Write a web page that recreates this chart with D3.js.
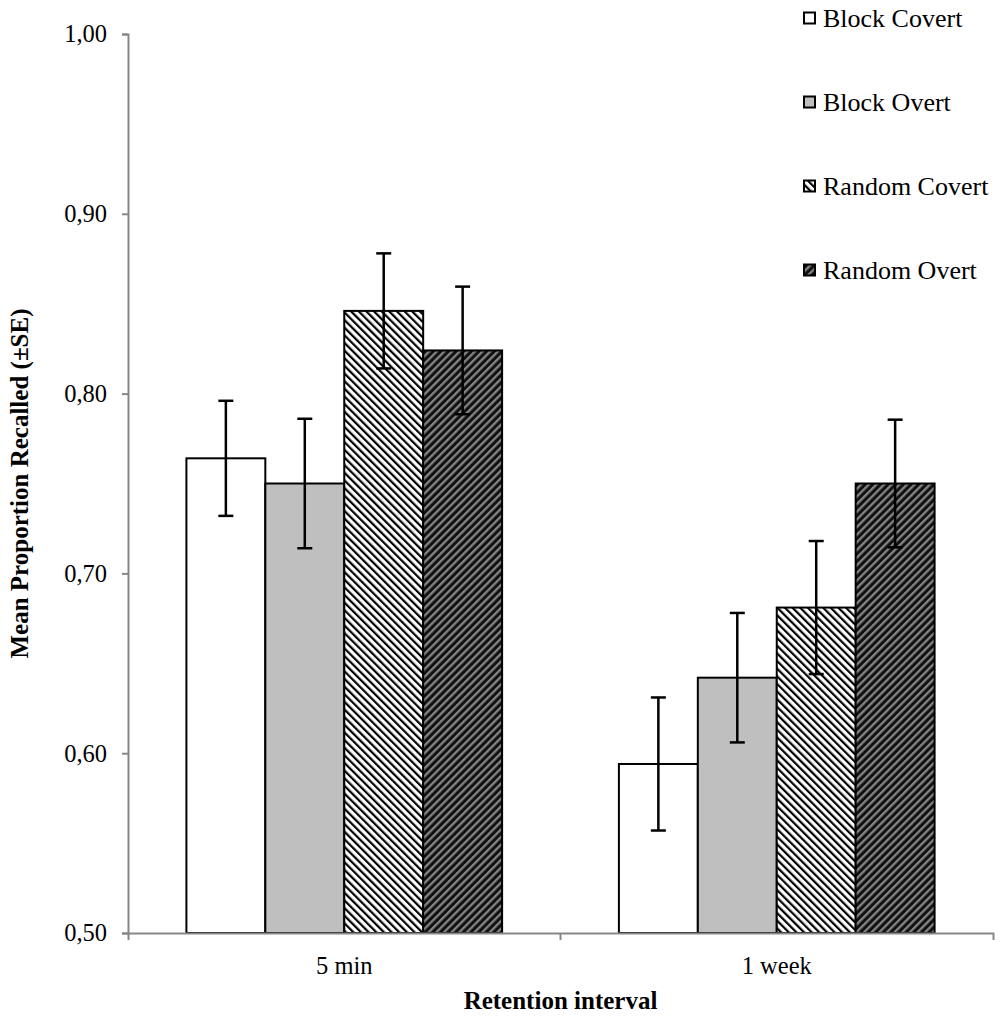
<!DOCTYPE html>
<html>
<head>
<meta charset="utf-8">
<script src="https://cdn.jsdelivr.net/npm/d3@7"></script>
<style>
  body { margin: 0; background: #fff; }
  svg { font-family: "Liberation Serif", "Times New Roman", serif; }
</style>
</head>
<body>
<section></section>
<script>
"use strict";

//Chart data
const categories = ["5 min", "1 week"];
const series = ["Block Covert", "Block Overt", "Random Covert", "Random Overt"];
const blockCovert = [0.764, 0.594];
const blockOvert = [0.750, 0.642];
const randomCovert = [0.846, 0.681];
const randomOvert = [0.824, 0.750];
const blockCovertSE = [0.032, 0.037];
const blockOvertSE = [0.036, 0.036];
const randomCovertSE = [0.032, 0.037];
const randomOvertSE = [0.0355, 0.0355];
const yTicks = [0.5, 0.6, 0.7, 0.8, 0.9, 1.0];

const w = 1000;
const h = 1020;
const plotLeft = 128;
const plotRight = 993;
const plotTop = 34;
const plotBottom = 933;

const means = [blockCovert, blockOvert, randomCovert, randomOvert];
const errors = [blockCovertSE, blockOvertSE, randomCovertSE, randomOvertSE];

const data = [];
categories.forEach((cat, ci) => {
  series.forEach((s, si) => {
    data.push({ cat, s, value: means[si][ci], se: errors[si][ci] });
  });
});

const svg = d3.select("section").append("svg").attr("width", w).attr("height", h);

//Fill patterns for the random bars
const defs = svg.append("defs");
const pRC = defs
  .append("pattern")
  .attr("id", "randCovert")
  .attr("patternUnits", "userSpaceOnUse")
  .attr("width", 5.4)
  .attr("height", 5.4)
  .attr("patternTransform", "rotate(-45)");
pRC.append("rect").attr("width", 5.4).attr("height", 5.4).attr("fill", "#fff");
pRC.append("rect").attr("width", 2.2).attr("height", 5.4).attr("fill", "#000");

const pRO = defs
  .append("pattern")
  .attr("id", "randOvert")
  .attr("patternUnits", "userSpaceOnUse")
  .attr("width", 5.4)
  .attr("height", 5.4)
  .attr("patternTransform", "rotate(45)");
pRO.append("rect").attr("width", 5.4).attr("height", 5.4).attr("fill", "#111");
pRO.append("rect").attr("width", 2.3).attr("height", 5.4).attr("fill", "#858585");

const fills = {
  "Block Covert": "#ffffff",
  "Block Overt": "#bfbfbf",
  "Random Covert": "url(#randCovert)",
  "Random Overt": "url(#randOvert)",
};

//Scales
const x0 = d3.scaleBand().domain(categories).range([plotLeft, plotRight]).paddingInner(0).paddingOuter(0);
const x1 = d3.scaleBand().domain(series).range([0, x0.bandwidth()]).paddingInner(0).paddingOuter(0.74);
const y = d3.scaleLinear().domain([0.5, 1.0]).range([plotBottom, plotTop]);

const commaFormat = d3.formatLocale({ decimal: ",", thousands: ".", grouping: [3], currency: ["", ""] }).format(".2f");

//Y axis
const yAxisG = svg
  .append("g")
  .attr("transform", `translate(${plotLeft},0)`)
  .call(d3.axisLeft(y).tickValues(yTicks).tickFormat(commaFormat).tickSize(6).tickPadding(15));
yAxisG.selectAll("path, line").attr("stroke", "#878787").attr("stroke-width", 2);
yAxisG.selectAll("text").attr("font-size", 24.5).attr("fill", "#000").attr("font-family", "Liberation Serif");

//Bars
svg
  .append("g")
  .selectAll("rect")
  .data(data)
  .enter()
  .append("rect")
  .attr("x", (d) => x0(d.cat) + x1(d.s))
  .attr("y", (d) => y(d.value))
  .attr("width", x1.bandwidth())
  .attr("height", (d) => y(0.5) - y(d.value))
  .attr("fill", (d) => fills[d.s])
  .attr("stroke", "#000")
  .attr("stroke-width", 2);

//X axis (drawn after bars so it sits on top)
const xAxisG = svg
  .append("g")
  .attr("transform", `translate(0,${plotBottom})`)
  .call(d3.axisBottom(x0).tickSizeInner(0).tickSizeOuter(7).tickPadding(24));
xAxisG.selectAll("path").attr("stroke", "#878787").attr("stroke-width", 2);
xAxisG.selectAll("text").attr("font-size", 24.5).attr("fill", "#000").attr("font-family", "Liberation Serif");
//boundary tick between the categories
xAxisG
  .selectAll(".sep")
  .data(categories.slice(1))
  .enter()
  .append("line")
  .attr("x1", (d) => x0(d))
  .attr("x2", (d) => x0(d))
  .attr("y1", 0)
  .attr("y2", 7)
  .attr("stroke", "#878787")
  .attr("stroke-width", 2);

//Error bars
const errG = svg.append("g").attr("stroke", "#000").attr("stroke-width", 2.5);
data.forEach((d) => {
  const cx = x0(d.cat) + x1(d.s) + x1.bandwidth() / 2;
  errG.append("line").attr("x1", cx).attr("x2", cx).attr("y1", y(d.value + d.se)).attr("y2", y(d.value - d.se));
  errG.append("line").attr("x1", cx - 7.5).attr("x2", cx + 7.5).attr("y1", y(d.value + d.se)).attr("y2", y(d.value + d.se));
  errG.append("line").attr("x1", cx - 7.5).attr("x2", cx + 7.5).attr("y1", y(d.value - d.se)).attr("y2", y(d.value - d.se));
});

//Axis titles
svg
  .append("text")
  .attr("x", (plotLeft + plotRight) / 2)
  .attr("y", 1009)
  .attr("text-anchor", "middle")
  .attr("font-size", 25)
  .attr("font-weight", "bold")
  .text("Retention interval");

svg
  .append("text")
  .attr("transform", `translate(28, ${(plotTop + plotBottom) / 2}) rotate(-90)`)
  .attr("text-anchor", "middle")
  .attr("font-size", 25)
  .attr("font-weight", "bold")
  .text("Mean Proportion Recalled (±SE)");

//Legend
const legend = svg.append("g").attr("transform", "translate(804, 18)");
const items = legend
  .selectAll("g")
  .data(series)
  .enter()
  .append("g")
  .attr("transform", (d, i) => `translate(0, ${i * 84})`);
items
  .append("rect")
  .attr("x", 0)
  .attr("y", -5.5)
  .attr("width", 11)
  .attr("height", 11)
  .attr("fill", (d) => fills[d])
  .attr("stroke", "#000")
  .attr("stroke-width", 2);
items
  .append("text")
  .attr("x", 19)
  .attr("y", 9)
  .attr("font-size", 26)
  .text((d) => d);
</script>
</body>
</html>
